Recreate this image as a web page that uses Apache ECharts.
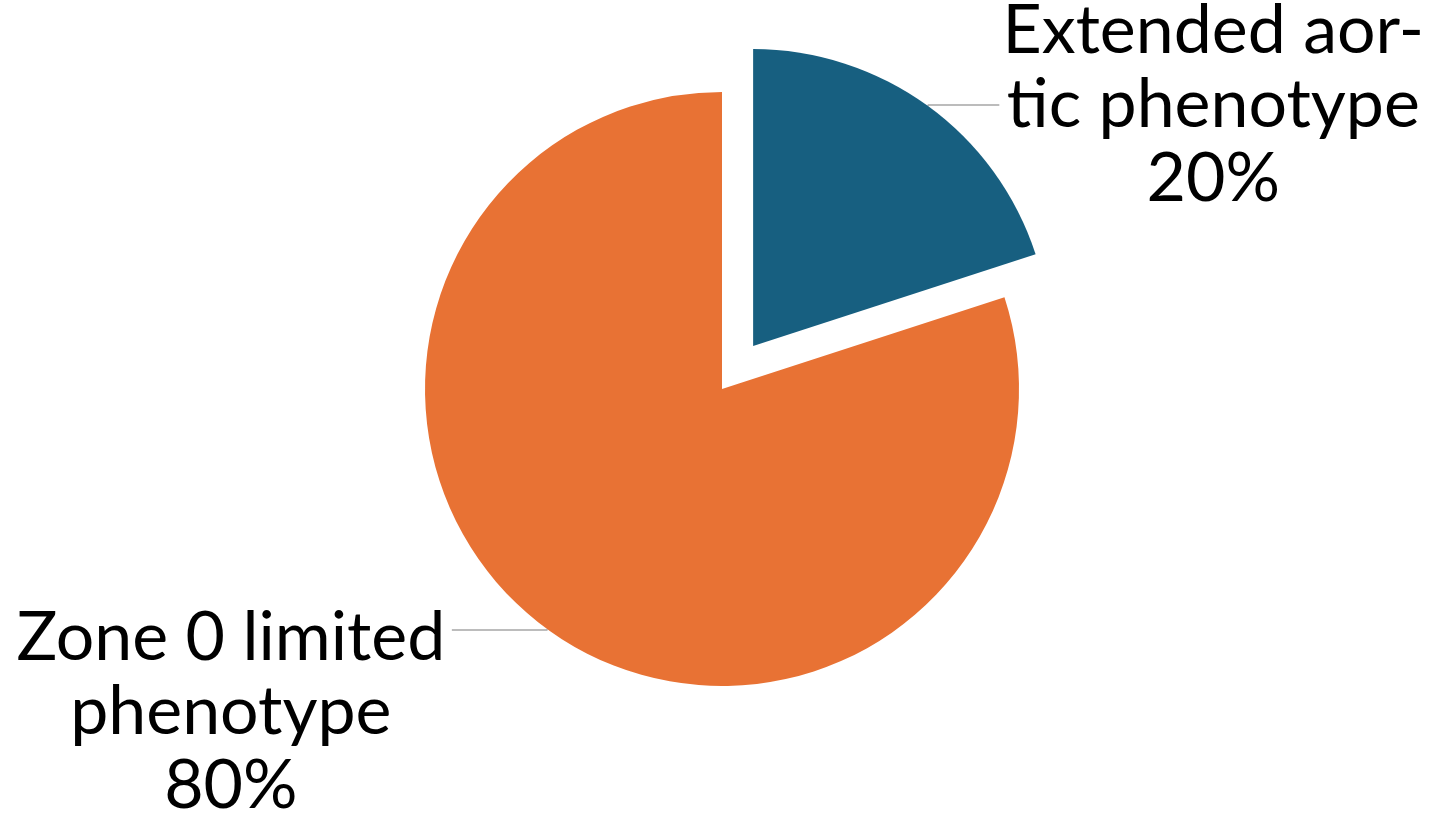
<!DOCTYPE html>
<html>
<head>
<meta charset="utf-8">
<script src="https://cdn.jsdelivr.net/npm/echarts@6/dist/echarts.min.js"></script>
<style>
  html, body { margin: 0; padding: 0; background: #ffffff; }
  #chart { width: 1433px; height: 815px; }
</style>
</head>
<body>
<div id="chart"></div>
<script>
// Phenotype split
const categories = ['Extended aortic phenotype', 'Zone 0 limited phenotype'];
const labelText = [['Extended aor-', 'tic phenotype'], ['Zone 0 limited', 'phenotype']];
const values = [20, 80];
const colors = ['#175f80', '#e87234'];

const FONT = 'Lato';
const FONT_SIZE = 68;
const LINE_H = 74;

const chart = echarts.init(document.getElementById('chart'), null, { renderer: 'canvas' });

function labelFormatter(p) {
  const lines = labelText[p.dataIndex].concat([p.value + '%']);
  return lines.map(function (l) { return '{t|' + l + '}'; }).join('\n');
}

function richFor(width) {
  return {
    t: {
      width: width, align: 'center', color: '#000000',
      fontFamily: FONT, fontSize: FONT_SIZE, lineHeight: LINE_H
    }
  };
}

const data = categories.map(function (name, i) {
  return {
    name: name,
    value: values[i],
    selected: i === 0,
    itemStyle: { color: colors[i] },
    label: { rich: richFor(i === 0 ? 418 : 432) },
    labelLine: { length: 1, length2: i === 0 ? 71 : 95 }
  };
});

chart.setOption({
  animation: false,
  backgroundColor: '#ffffff',
  series: [{
    type: 'pie',
    center: [722, 389],
    radius: 297,
    startAngle: 90,
    clockwise: true,
    selectedMode: 'single',
    selectedOffset: 53,
    avoidLabelOverlap: false,
    emphasis: { disabled: true },
    label: {
      show: true,
      position: 'outside',
      alignTo: 'none',
      distanceToLabelLine: 5,
      formatter: labelFormatter,
      color: '#000000',
      fontFamily: FONT,
      fontSize: FONT_SIZE,
      lineHeight: LINE_H
    },
    labelLine: {
      show: true,
      smooth: false,
      lineStyle: { color: '#a6a6a6', width: 1.5 }
    },
    // The lower label hangs below its leader line, first row level with it
    labelLayout: function (p) {
      if (p.dataIndex !== 1 || !p.labelLinePoints) { return {}; }
      const end = p.labelLinePoints[p.labelLinePoints.length - 1];
      return {
        y: end[1] + LINE_H + 8,
        labelLinePoints: p.labelLinePoints
      };
    },
    data: data
  }]
});
</script>
</body>
</html>
